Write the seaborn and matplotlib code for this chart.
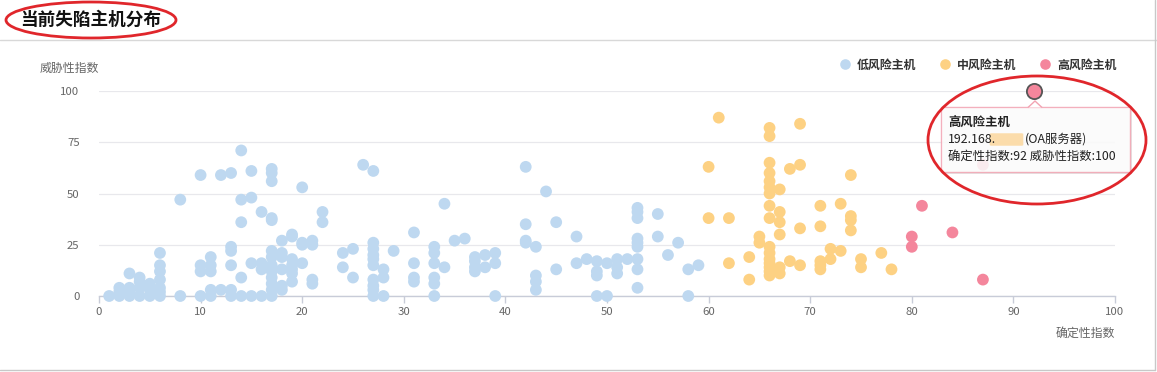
import numpy as np
import pandas as pd
import matplotlib
matplotlib.use("Agg")
import matplotlib.pyplot as plt
from matplotlib.patches import Ellipse, FancyBboxPatch, Polygon, Rectangle
from matplotlib.lines import Line2D
import seaborn as sns

# ---------------- data ----------------
title = "当前失陷主机分布"
x_label = "确定性指数"
y_label = "威胁性指数"
levels = ["低风险主机", "中风险主机", "高风险主机"]
colors = ["#bed8f0", "#fdd183", "#f4869c"]

low_x = [1, 2, 2, 2, 3, 3, 3, 3, 4, 4, 4, 4, 5, 5, 5, 6, 6, 6, 6, 6, 6, 6, 8, 8,
         10, 10, 10, 10, 11, 11, 11, 11, 11, 12, 12, 13, 13, 13, 13, 13, 13,
         14, 14, 14, 14, 14, 15, 15, 15, 15, 16, 16, 16, 16,
         17, 17, 17, 17, 17, 17, 17, 17, 17, 17, 17, 17, 17,
         18, 18, 18, 18, 18, 18, 19, 19, 19, 19, 19, 19, 19, 20, 20, 20, 20,
         21, 21, 21, 21, 22, 22, 24, 24, 25, 25, 26,
         27, 27, 27, 27, 27, 27, 27, 27, 27, 27, 28, 28, 28, 29,
         31, 31, 31, 31, 33, 33, 33, 33, 33, 33, 34, 34, 35, 36,
         37, 37, 37, 37, 38, 38, 39, 39, 39, 42, 42, 42, 42, 43, 43, 43, 43,
         44, 45, 45, 47, 47, 48, 49, 49, 49, 49, 50, 50, 51, 51, 51, 52,
         53, 53, 53, 53, 53, 53, 53, 53, 53, 55, 55, 56, 57, 58, 58, 59]
low_y = [0, 0, 2, 4, 0, 2, 4, 11, 0, 4, 7, 9, 0, 3, 6, 0, 2, 4, 8, 12, 15, 21, 0, 47,
         0, 12, 15, 59, 0, 3, 12, 15, 19, 3, 59, 0, 3, 15, 22, 24, 60,
         0, 9, 36, 47, 71, 0, 16, 48, 61, 0, 13, 16, 41,
         0, 3, 6, 9, 12, 15, 19, 22, 37, 38, 56, 60, 62,
         3, 5, 13, 19, 21, 27, 7, 11, 13, 15, 18, 29, 30, 16, 25, 26, 53,
         6, 8, 25, 27, 36, 41, 14, 21, 9, 23, 64,
         0, 3, 5, 8, 15, 18, 20, 23, 26, 61, 0, 9, 13, 22,
         7, 9, 16, 31, 0, 6, 9, 16, 21, 24, 14, 45, 27, 28,
         12, 14, 17, 19, 14, 20, 0, 16, 21, 26, 27, 35, 63, 3, 7, 10, 24,
         51, 13, 36, 16, 29, 18, 0, 10, 12, 17, 0, 16, 11, 14, 18, 18,
         4, 13, 18, 24, 26, 28, 38, 41, 43, 29, 40, 20, 26, 0, 13, 15]

mid_x = [60, 60, 61, 62, 62, 64, 64, 65, 65,
         66, 66, 66, 66, 66, 66, 66, 66, 66, 66, 66, 66, 66, 66, 66, 66,
         67, 67, 67, 67, 67, 67, 68, 68, 69, 69, 69, 69,
         71, 71, 71, 71, 71, 72, 72, 73, 73, 74, 74, 74, 74, 75, 75, 77, 78]
mid_y = [38, 63, 87, 16, 38, 8, 19, 26, 29,
         10, 12, 14, 16, 18, 21, 24, 38, 44, 50, 53, 56, 60, 65, 78, 82,
         11, 14, 30, 36, 41, 52, 17, 62, 15, 33, 64, 84,
         13, 15, 17, 34, 44, 18, 23, 22, 45, 32, 37, 39, 59, 14, 18, 21, 13]

high_x = [80, 80, 81, 84, 87, 87, 92]
high_y = [24, 29, 44, 31, 8, 64, 100]

hover_x, hover_y = 92, 100
tooltip_title = "高风险主机"
tooltip_ip = "192.168."
tooltip_host = "(OA服务器)"
tooltip_values = "确定性指数:92 威胁性指数:100"

x_ticks = [0, 10, 20, 30, 40, 50, 60, 70, 80, 90, 100]
y_ticks = [0, 25, 50, 75, 100]

df = pd.DataFrame({
    "x": low_x + mid_x + high_x,
    "y": low_y + mid_y + high_y,
    "level": [levels[0]] * len(low_x) + [levels[1]] * len(mid_x) + [levels[2]] * len(high_x),
})

# ---------------- figure ----------------
W, H = 1157, 372
sns.set_theme(style="white")
plt.rcParams["font.family"] = ["Noto Sans CJK SC", "DejaVu Sans"]

fig = plt.figure(figsize=(W / 100, H / 100), dpi=100)
fig.patch.set_facecolor("white")

def fx(px):
    return px / W

def fy(py):
    return 1 - py / H

ax = fig.add_axes([fx(99), fy(296), fx(1115) - fx(99), fy(91) - fy(296)])

sns.scatterplot(data=df, x="x", y="y", hue="level", hue_order=levels,
                palette=colors, s=72, edgecolor="none", linewidth=0,
                clip_on=False, ax=ax, zorder=3)

ax.set_xlim(0, 100)
ax.set_ylim(0, 100)
ax.set_xticks(x_ticks)
ax.set_yticks(y_ticks)
ax.set_xlabel("")
ax.set_ylabel("")
for s in ["top", "right", "left"]:
    ax.spines[s].set_visible(False)
ax.spines["bottom"].set_color("#c8ccd8")
ax.spines["bottom"].set_linewidth(1.0)
ax.yaxis.grid(True, color="#e8e8ec", linewidth=0.9)
ax.xaxis.grid(False)
ax.set_axisbelow(True)
ax.tick_params(axis="x", length=5, width=1, color="#c8ccd8", pad=3,
               labelsize=8.2, labelcolor="#666666", direction="out", bottom=True)
ax.tick_params(axis="y", length=0, pad=14, labelsize=8.2, labelcolor="#666666")

# highlighted (hovered) point
ax.scatter([hover_x], [hover_y], s=120, color=colors[2], edgecolor="#555555",
           linewidth=1.3, zorder=6, clip_on=False)

# legend
sns.move_legend(ax, loc="center right", bbox_to_anchor=(fx(1127), fy(65)),
                bbox_transform=fig.transFigure, ncol=3, frameon=False, title=None,
                prop={"weight": "bold", "size": 8.6}, handlelength=0.8,
                handletextpad=0.6, columnspacing=2.0, markerscale=0.9)
for t in ax.get_legend().get_texts():
    t.set_color("#333333")

# axis labels
fig.text(fx(69), fy(68), y_label, ha="center", va="center", fontsize=8.6, color="#666666")
fig.text(fx(1115), fy(333), x_label, ha="right", va="center", fontsize=8.6, color="#666666")

# title and header separator
fig.text(fx(20), fy(20), title, ha="left", va="center", fontsize=12.7,
         fontweight="bold", color="#111111")
fig.add_artist(Line2D([0, 1], [fy(40), fy(40)], transform=fig.transFigure,
                      color="#d8d8d8", linewidth=1))
# panel border (right & bottom)
fig.add_artist(Line2D([fx(1155), fx(1155)], [fy(0), fy(370)], transform=fig.transFigure,
                      color="#c8c8c8", linewidth=1))
fig.add_artist(Line2D([0, fx(1155)], [fy(370), fy(370)], transform=fig.transFigure,
                      color="#c8c8c8", linewidth=1))

# tooltip
bx0, bx1, by0, by1 = 941, 1130, 107, 172
shadow = FancyBboxPatch((fx(bx0 + 2), fy(by1 + 2)), fx(bx1 - bx0), fy(by0) - fy(by1),
                        boxstyle="square,pad=0", transform=fig.transFigure,
                        facecolor="#000000", alpha=0.10, edgecolor="none", zorder=9)
fig.add_artist(shadow)
box = FancyBboxPatch((fx(bx0), fy(by1)), fx(bx1 - bx0), fy(by0) - fy(by1),
                     boxstyle="square,pad=0", transform=fig.transFigure,
                     facecolor="white", alpha=0.86, edgecolor="#f2a3b2", linewidth=1, zorder=10)
fig.add_artist(box)
tri = Polygon([(fx(1028), fy(107.5)), (fx(1035), fy(101)), (fx(1042), fy(107.5))],
              closed=False, transform=fig.transFigure, facecolor="white",
              edgecolor="#f2a3b2", linewidth=1, zorder=11)
fig.add_artist(tri)
fig.text(fx(948), fy(123), tooltip_title, ha="left", va="center", fontsize=8.9,
         fontweight="bold", color="#222222", zorder=12)
fig.text(fx(948), fy(139.5), tooltip_ip, ha="left", va="center", fontsize=8.9,
         color="#222222", zorder=12)
fig.add_artist(FancyBboxPatch((fx(992), fy(145)), fx(29), fy(134) - fy(145),
                              boxstyle="round,pad=0.002", transform=fig.transFigure,
                              facecolor="#fcd9a2", edgecolor="none", alpha=0.9, zorder=12))
fig.text(fx(1025), fy(139.5), tooltip_host, ha="left", va="center", fontsize=8.9,
         color="#222222", zorder=12)
fig.text(fx(948), fy(156.5), tooltip_values, ha="left", va="center", fontsize=8.9,
         color="#222222", zorder=12)

# red hand-drawn ellipses
fig.add_artist(Ellipse((fx(91), fy(20)), fx(170), fy(2) - fy(38), transform=fig.transFigure,
                       fill=False, edgecolor="#e0262b", linewidth=2, zorder=20))
fig.add_artist(Ellipse((fx(1037), fy(140)), fx(218), fy(76) - fy(204), transform=fig.transFigure,
                       fill=False, edgecolor="#e0262b", linewidth=2, zorder=20))

fig.savefig("out.png", dpi=100, facecolor="white")
